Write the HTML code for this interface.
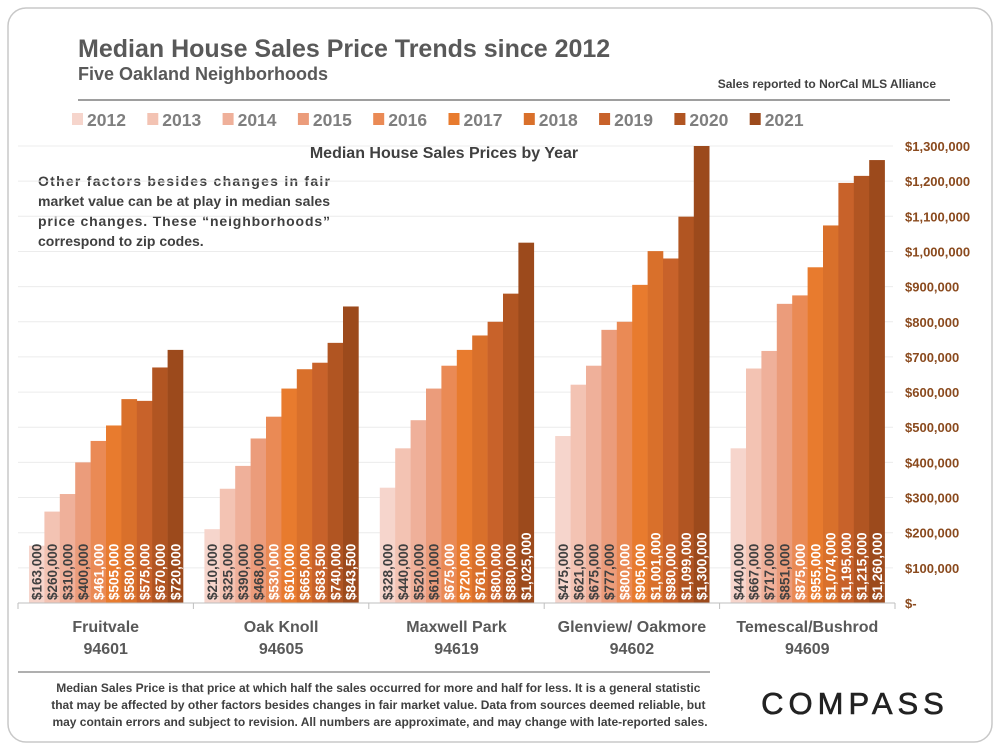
<!DOCTYPE html>
<html><head><meta charset="utf-8"><style>
body{margin:0;background:#fff;font-family:"Liberation Sans",sans-serif}
</style></head><body>
<svg width="1000" height="750" xmlns="http://www.w3.org/2000/svg" font-family="Liberation Sans, sans-serif">
<rect x="8" y="8" width="984" height="734" rx="18" fill="#fff" stroke="#c8c8c8" stroke-width="1.5"/>
<text x="78" y="57" font-size="25" font-weight="bold" fill="#595959">Median House Sales Price Trends since 2012</text>
<text x="78" y="80" font-size="18" font-weight="bold" fill="#595959">Five Oakland Neighborhoods</text>
<text x="936" y="88" font-size="12" font-weight="bold" fill="#404040" text-anchor="end">Sales reported to NorCal MLS Alliance</text>
<line x1="78" y1="100" x2="950" y2="100" stroke="#7f7f7f" stroke-width="1.5"/>
<g id="legend"></g>
<text x="444" y="158" font-size="16" font-weight="bold" fill="#404040" text-anchor="middle">Median House Sales Prices by Year</text>
<text font-size="14" font-weight="bold" fill="#404040">
<tspan x="38" y="186" textLength="292" lengthAdjust="spacing">Other factors besides changes in fair</tspan>
<tspan x="38" y="206" textLength="292" lengthAdjust="spacing">market value can be at play in median sales</tspan>
<tspan x="38" y="226" textLength="292" lengthAdjust="spacing">price changes. These “neighborhoods”</tspan>
<tspan x="38" y="246">correspond to zip codes.</tspan></text>
<g id="grid"></g><g id="bars"></g><g id="axes"></g>
<line x1="18" y1="672" x2="710" y2="672" stroke="#7f7f7f" stroke-width="1.2"/>
<text font-size="12" font-weight="bold" fill="#404040" text-anchor="middle">
<tspan x="380" y="692">Median Sales Price is that price at which half the sales occurred for more and half for less. It is a general statistic</tspan>
<tspan x="380" y="709">that may be affected by other factors besides changes in fair market value. Data from sources deemed reliable, but</tspan>
<tspan x="380" y="726">may contain errors and subject to revision.  All numbers are approximate, and may change with late-reported sales.</tspan></text>
<text x="855" y="714" font-size="31" fill="#222" stroke="#222" stroke-width="0.6" text-anchor="middle" letter-spacing="5">COMPASS</text>
</svg>
<script>
const years=["2012","2013","2014","2015","2016","2017","2018","2019","2020","2021"];
const hoods=["Fruitvale","Oak Knoll","Maxwell Park","Glenview/ Oakmore","Temescal/Bushrod"];
const zips=["94601","94605","94619","94602","94609"];
const fruitvale=[163000,260000,310000,400000,461000,505000,580000,575000,670000,720000];
const oakKnoll=[210000,325000,390000,468000,530000,610000,665000,683500,740000,843500];
const maxwell=[328000,440000,520000,610000,675000,720000,761000,800000,880000,1025000];
const glenview=[475000,621000,675000,777000,800000,905000,1001000,980000,1099000,1300000];
const temescal=[440000,667000,717000,851000,875000,955000,1074000,1195000,1215000,1260000];
const series=[fruitvale,oakKnoll,maxwell,glenview,temescal];
const ticks=[0,100000,200000,300000,400000,500000,600000,700000,800000,900000,1000000,1100000,1200000,1300000];
const colors=["#f6d5cc","#f3c3b3","#efb09a","#eb9c7b","#ea8a55","#e87b2e","#d9702b","#c8622a","#b15522","#9c4a1c"];
const NS="http://www.w3.org/2000/svg";
const y0=603,yTop=146,maxV=1300000,x0=18,gw=175.4,bw=15.4,pad=11;
const y=v=>y0-(v/maxV)*(y0-yTop);
function mk(t,a,p){const e=document.createElementNS(NS,t);for(const k in a)e.setAttribute(k,a[k]);p.appendChild(e);return e;}
const fmt=v=>v===0?"$-":"$"+v.toLocaleString("en-US");
const grid=document.getElementById("grid"),bars=document.getElementById("bars"),axes=document.getElementById("axes"),leg=document.getElementById("legend");
ticks.forEach(t=>{
 if(t>0){const l=mk("line",{x1:x0,x2:893,y1:y(t),y2:y(t),stroke:"#ececec"},grid);
 
 }
 const tx=mk("text",{x:905,y:y(t)+5,"font-size":13,"font-weight":"bold",fill:"#8a4a1e"},axes);
 tx.textContent=fmt(t);
 
 
});
const ax=mk("line",{x1:x0,x2:x0+gw*5,y1:y0,y2:y0,stroke:"#bfbfbf"},axes);


for(let g=0;g<=5;g++){const tk=mk("line",{x1:x0+g*gw,x2:x0+g*gw,y1:y0,y2:y0+6,stroke:"#bfbfbf"},axes);
 
 }
series.forEach((s,g)=>{
 const cx=x0+g*gw+gw/2;
 const n=mk("text",{x:cx,y:632,"font-size":16,"font-weight":"bold",fill:"#595959","text-anchor":"middle"},axes);
 n.textContent=hoods[g];
 
 
 const z=mk("text",{x:cx,y:654,"font-size":16,"font-weight":"bold",fill:"#595959","text-anchor":"middle"},axes);
 z.textContent=zips[g];
 
 
 s.forEach((v,i)=>{
  const bx=x0+g*gw+pad+i*bw;
  const r=mk("rect",{x:bx,y:y(v),width:bw+0.3,height:y0-y(v),fill:colors[i]},bars);
  
  
  const tx=bx+bw/2+5,ty=y0-3;
  const lb=mk("text",{x:tx,y:ty,"font-size":13.5,"font-weight":"bold",fill:i<4?"#404040":"#fff",transform:`rotate(-90 ${tx} ${ty})`},bars);
  lb.textContent=fmt(v);
  
  
 });
});
years.forEach((yr,i)=>{
 const lx=72+i*75.3;
 const sw=mk("rect",{x:lx,y:113,width:11,height:12,fill:colors[i]},leg);
 
 
 const t=mk("text",{x:lx+15,y:126,"font-size":17.5,"font-weight":"bold",fill:"#7f7f7f"},leg);
 t.textContent=yr;
 
 
});
</script>
</body></html>
